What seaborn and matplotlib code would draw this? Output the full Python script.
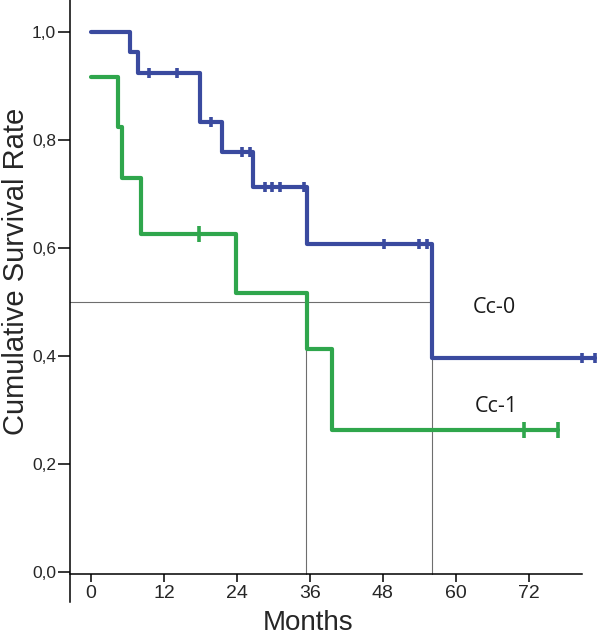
import numpy as np
import pandas as pd
import matplotlib
matplotlib.use("Agg")
import matplotlib.pyplot as plt
import seaborn as sns

# survival curves (months, cumulative survival)
cc0_times = [0, 6.4, 7.8, 18.0, 21.6, 26.6, 35.6, 56.1, 82.9]
cc0_surv = [1.0, 0.962, 0.923, 0.834, 0.778, 0.712, 0.607, 0.397, 0.397]
cc0_censored = [9.6, 14.2, 19.7, 24.8, 26.1, 28.6, 29.8, 31.1, 35.0,
                48.2, 54.0, 55.2, 80.7, 82.9]

cc1_times = [0, 4.4, 5.15, 8.2, 23.8, 35.6, 39.7, 76.8]
cc1_surv = [0.917, 0.823, 0.729, 0.625, 0.517, 0.413, 0.263, 0.263]
cc1_censored = [17.8, 71.2, 76.8]

median_cc0 = 56.0
median_cc1 = 35.3

x_ticks = [0, 12, 24, 36, 48, 60, 72]
y_ticks = [0.0, 0.2, 0.4, 0.6, 0.8, 1.0]
y_tick_labels = ["0,0", "0,2", "0,4", "0,6", "0,8", "1,0"]

BLUE = "#3a4a9f"
GREEN = "#2fa64c"
GREY = "#6e6e6e"

sns.set_style("ticks")
plt.rcParams["font.family"] = ["Liberation Sans", "DejaVu Sans"]


def surv_at(times, surv, t):
    i = np.searchsorted(times, t, side="right") - 1
    return np.asarray(surv)[i]


curves = pd.concat([
    pd.DataFrame({"Months": cc0_times, "Survival": cc0_surv, "group": "Cc-0"}),
    pd.DataFrame({"Months": cc1_times, "Survival": cc1_surv, "group": "Cc-1"}),
])
cens0 = pd.DataFrame({"Months": cc0_censored,
                      "Survival": surv_at(cc0_times, cc0_surv, cc0_censored)})
cens1 = pd.DataFrame({"Months": cc1_censored,
                      "Survival": surv_at(cc1_times, cc1_surv, cc1_censored)})

fig = plt.figure(figsize=(6.0, 6.37), dpi=100)
ax = fig.add_axes([70 / 600, 35 / 637, 530 / 600, 602 / 637])

# median reference lines
ax.plot([-3.45, median_cc0], [0.5, 0.5], color=GREY, lw=0.8, zorder=1)
ax.plot([median_cc1, median_cc1], [-0.004, 0.5], color=GREY, lw=0.8, zorder=1)
ax.plot([median_cc0, median_cc0], [-0.004, 0.5], color=GREY, lw=0.8, zorder=1)

sns.lineplot(data=curves, x="Months", y="Survival", hue="group",
             palette={"Cc-0": BLUE, "Cc-1": GREEN}, estimator=None,
             drawstyle="steps-post", linewidth=3, legend=False, ax=ax,
             clip_on=False, zorder=3)
sns.scatterplot(data=cens0, x="Months", y="Survival", marker="|", s=60,
                color=BLUE, linewidth=2.6, ax=ax, clip_on=False, zorder=4)
sns.scatterplot(data=cens1, x="Months", y="Survival", marker="|", s=130,
                color=GREEN, linewidth=2.6, ax=ax, clip_on=False, zorder=4)

ax.text(66.4, 0.489, "Cc-0", ha="center", va="center", fontsize=15.5,
        family=["Open Sans", "DejaVu Sans"], color="#1a1a1a")
ax.text(66.7, 0.306, "Cc-1", ha="center", va="center", fontsize=15.5,
        family=["Open Sans", "DejaVu Sans"], color="#1a1a1a")

ax.set_xlim(-3.45, 83.7)
ax.set_ylim(-0.0556, 1.059)
ax.set_xticks(x_ticks)
ax.set_xticklabels([str(t) for t in x_ticks])
ax.set_yticks(y_ticks)
ax.set_yticklabels(y_tick_labels)
ax.tick_params(axis="x", length=6, width=1.1, pad=2, color="black",
               labelsize=14)
ax.tick_params(axis="y", length=9, width=1.1, pad=1, color="black",
               labelsize=12.5)

for side in ["top", "right"]:
    ax.spines[side].set_visible(False)
ax.spines["bottom"].set_position(("data", -0.004))
ax.spines["bottom"].set_bounds(-3.45, 80.7)
for side in ["left", "bottom"]:
    ax.spines[side].set_linewidth(1.1)
    ax.spines[side].set_color("black")

ax.set_xlabel("Months", fontsize=20)
ax.set_ylabel("Cumulative Survival Rate", fontsize=21)
ax.xaxis.set_label_coords(0.449, -0.014)
ax.yaxis.set_label_coords(-0.076, 0.55)

fig.savefig("out.png", dpi=100)
